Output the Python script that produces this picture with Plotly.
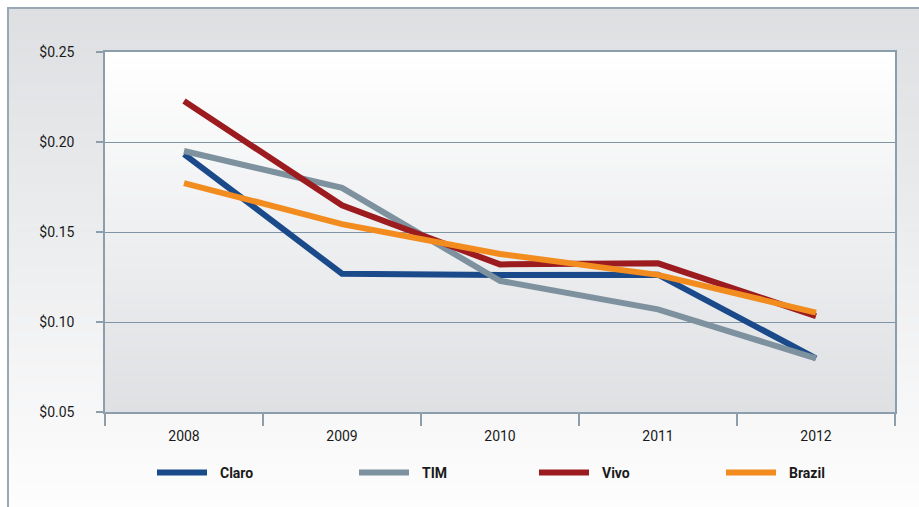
import plotly.graph_objects as go

years = ["2008", "2009", "2010", "2011", "2012"]
series_names = ["Claro", "TIM", "Vivo", "Brazil"]
claro = [0.1933, 0.1268, 0.1261, 0.1263, 0.0798]
tim = [0.1950, 0.1745, 0.1229, 0.1070, 0.0798]
vivo = [0.2228, 0.1648, 0.1320, 0.1326, 0.1033]
brazil = [0.1772, 0.1544, 0.1378, 0.1262, 0.1052]
y_ticks = [0.05, 0.10, 0.15, 0.20, 0.25]
y_tick_labels = ["$0.05", "$0.10", "$0.15", "$0.20", "$0.25"]

series_values = [claro, tim, vivo, brazil]
colors = ["#1b4a8a", "#7d919e", "#9b1b1f", "#f28c1f"]

W, H = 919, 507
L, R, T, B = 105, 895, 52, 412
PW, PH = R - L, B - T

def xp(px):
    return (px - L) / PW

def yp(py):
    return (B - py) / PH

def lerp_color(c1, c2, t):
    a = [int(c1[i:i + 2], 16) for i in (1, 3, 5)]
    b = [int(c2[i:i + 2], 16) for i in (1, 3, 5)]
    return "rgb(%d,%d,%d)" % tuple(round(a[k] + (b[k] - a[k]) * t) for k in range(3))

fig = go.Figure()
for name, vals, col in zip(series_names, series_values, colors):
    fig.add_trace(go.Scatter(x=years, y=vals, name=name, mode="lines",
                             line=dict(color=col, width=6), showlegend=False))

shapes = []
n = 60
top_px, bot_px = 8, 507
for i in range(n):
    y0 = top_px + (bot_px - top_px) * i / n
    y1 = top_px + (bot_px - top_px) * (i + 1) / n + 0.6
    shapes.append(dict(type="rect", xref="paper", yref="paper", layer="below",
                       x0=xp(8), x1=xp(925), y0=yp(y1), y1=yp(y0),
                       line=dict(width=0),
                       fillcolor=lerp_color("#dddfe2", "#fdfdfd", i / (n - 1))))
for i in range(n):
    y0 = T + PH * i / n
    y1 = T + PH * (i + 1) / n + 0.6
    shapes.append(dict(type="rect", xref="paper", yref="paper", layer="below",
                       x0=0, x1=1, y0=yp(min(y1, B)), y1=yp(y0),
                       line=dict(width=0),
                       fillcolor=lerp_color("#ffffff", "#dee0e3", i / (n - 1))))
shapes.append(dict(type="line", xref="paper", yref="paper", x0=xp(7), x1=xp(925),
                   y0=yp(8), y1=yp(8), line=dict(color="#9aa8b5", width=2)))
shapes.append(dict(type="line", xref="paper", yref="paper", x0=xp(8), x1=xp(8),
                   y0=yp(7), y1=yp(510), line=dict(color="#9aa8b5", width=2)))

annotations = []
legend_px = [155, 357, 537, 724]
leg_y = 472.5
for name, col, lx in zip(series_names, colors, legend_px):
    shapes.append(dict(type="line", xref="paper", yref="paper",
                       x0=xp(lx + 2), x1=xp(lx + 52), y0=yp(leg_y), y1=yp(leg_y),
                       line=dict(color=col, width=6)))
    annotations.append(dict(xref="paper", yref="paper", x=xp(lx + 63), y=yp(leg_y),
                            text="<b>%s</b>" % name, showarrow=False,
                            xanchor="left", yanchor="middle",
                            font=dict(family="Roboto", size=14, color="#1a1a1a")))

axis_col = "#8c9dac"
tick_font = dict(family="Roboto", size=14, color="#1a1a1a")
fig.update_layout(
    width=W, height=H,
    margin=dict(l=L, r=W - R, t=T, b=H - B),
    paper_bgcolor="white",
    plot_bgcolor="rgba(0,0,0,0)",
    shapes=shapes,
    annotations=annotations,
    font=dict(family="Roboto", size=14, color="#1a1a1a"),
    xaxis=dict(type="category", range=[-0.5, 4.5], tickson="boundaries",
               ticks="outside", ticklen=12, tickcolor=axis_col, tickwidth=1.5,
               showline=True, linecolor=axis_col, linewidth=1.5, mirror=True,
               showgrid=False, zeroline=False, ticklabelstandoff=10,
               tickfont=tick_font),
    yaxis=dict(range=[0.05, 0.25], tickmode="array", tickvals=y_ticks,
               ticktext=y_tick_labels,
               ticks="outside", ticklen=7, tickcolor=axis_col, tickwidth=1.5,
               showline=True, linecolor=axis_col, linewidth=1.5, mirror=True,
               showgrid=True, gridcolor="#7f94a6", gridwidth=1, zeroline=False,
               ticklabelstandoff=19,
               tickfont=tick_font),
)

fig.write_html("out.html", config={"displayModeBar": False},
               post_script="document.body.style.margin='0';document.body.style.overflow='hidden';")
